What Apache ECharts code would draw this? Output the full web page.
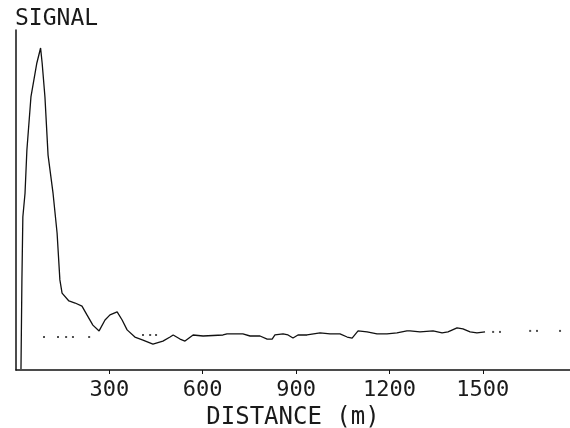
<!DOCTYPE html>
<html>
<head>
<meta charset="utf-8">
<script src="https://cdn.jsdelivr.net/npm/echarts@6/dist/echarts.min.js"></script>
<style>
  html, body { margin: 0; padding: 0; background: #fff; }
  #main { width: 570px; height: 428px; }
</style>
</head>
<body>
<div id="main"></div>
<script>
// distance (m) and signal (arbitrary units, axis runs 0..100)
const distance = [16, 19, 22, 29, 35, 48, 67, 79, 84, 93, 103, 119, 132, 141, 148, 151, 170, 190, 212, 228,
  247, 267, 286, 302, 325, 341, 357, 382, 408, 440, 472, 495, 505, 527, 543, 569, 601, 665, 678, 729,
  752, 784, 807, 823, 832, 858, 874, 890, 906, 935, 977, 1009, 1041, 1064, 1080, 1099, 1128, 1160, 1192, 1224,
  1256, 1266, 1298, 1340, 1369, 1388, 1417, 1436, 1459, 1481, 1507]
const signal = [0.3, 26.5, 45, 52, 64.7, 80.3, 90.3, 94.7, 90.3, 80.3, 63.2, 52, 40.3, 26.5, 22.6, 22.4, 20.3, 19.7, 18.8, 16.2,
  13.2, 11.5, 14.7, 16.2, 17.1, 14.7, 11.8, 9.7, 8.8, 7.6, 8.5, 9.7, 10.3, 9.1, 8.5, 10.3, 10.0, 10.3, 10.6, 10.6,
  10.0, 10.0, 9.1, 9.1, 10.3, 10.6, 10.3, 9.4, 10.3, 10.3, 10.9, 10.6, 10.6, 9.7, 9.4, 11.5, 11.2, 10.6, 10.6, 10.9,
  11.5, 11.5, 11.2, 11.5, 10.9, 11.2, 12.4, 12.1, 11.2, 10.9, 11.2]

// dotted reference level
const refDistance = [90, 135, 161, 183, 235, 408, 431, 450, 1533, 1555, 1652, 1674, 1748]
const refLevel = [9.7, 9.7, 9.7, 9.7, 9.7, 10.3, 10.3, 10.3, 11.2, 11.2, 11.5, 11.5, 11.5]

const xTicks = [300, 600, 900, 1200, 1500]

const font = "'DejaVu Sans Mono', monospace"

let chart = echarts.init(document.getElementById('main'))

let option = {
  animation: false,
  backgroundColor: '#fff',
  title: {
    text: 'SIGNAL',
    left: 10,
    top: 3,
    textStyle: { fontFamily: font, fontSize: 23, fontWeight: 'normal', color: '#1a1a1a' }
  },
  grid: { left: 16, right: 0, top: 30, bottom: 58, outerBoundsMode: 'none' },
  xAxis: {
    type: 'value',
    min: 0,
    max: 1780,
    interval: 300,
    name: 'DISTANCE (m)',
    nameLocation: 'middle',
    nameGap: 24,
    nameTextStyle: { fontFamily: font, fontSize: 24, color: '#1a1a1a' },
    axisLine: { show: true, lineStyle: { color: '#111', width: 1.5 } },
    axisTick: { show: true, length: 4, lineStyle: { color: '#111' } },
    splitLine: { show: false },
    axisLabel: {
      showMinLabel: false,
      showMaxLabel: false,
      margin: 9,
      fontFamily: font,
      fontSize: 22,
      color: '#1a1a1a',
      formatter: v => xTicks.includes(v) ? String(v) : ''
    }
  },
  yAxis: {
    type: 'value',
    min: 0,
    max: 100,
    axisLine: { show: true, lineStyle: { color: '#111', width: 1.5 } },
    axisTick: { show: false },
    axisLabel: { show: false },
    splitLine: { show: false }
  },
  series: [
    {
      type: 'line',
      data: distance.map((d, i) => [d, signal[i]]),
      showSymbol: false,
      lineStyle: { color: '#111', width: 1.3 }
    },
    {
      type: 'scatter',
      data: refDistance.map((d, i) => [d, refLevel[i]]),
      symbol: 'rect',
      symbolSize: 2,
      itemStyle: { color: '#222' }
    }
  ]
}

chart.setOption(option)
</script>
</body>
</html>
